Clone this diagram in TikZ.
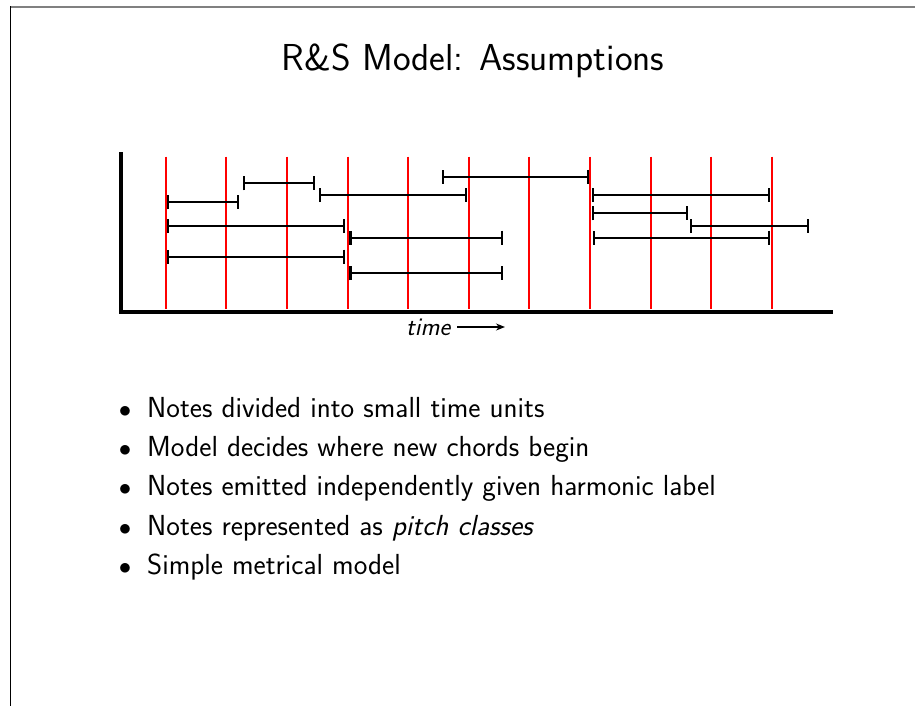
\documentclass[tikz,border=0pt]{standalone}
\usetikzlibrary{arrows.meta}
\begin{document}
\begin{tikzpicture}[x=1pt,y=-1pt,
  frameline/.style={line width=1.5pt},
  gridline/.style={red, line width=2pt},
  notebar/.style={line width=2pt,
    {Bar[width=14pt,line width=2.2pt]}-{Bar[width=14pt,line width=2.2pt]}},
  axisline/.style={line width=4pt, line join=miter},
  itemtext/.style={anchor=base west, inner sep=0pt,
    font=\fontsize{29}{34}\selectfont\sffamily},
  itemdot/.style={anchor=base, inner sep=0pt,
    font=\fontsize{29}{34}\selectfont}]

\useasboundingbox (0,0) rectangle (915,706);

% slide frame edges
\draw[frameline, gray] (10,7) -- (915,7);
\draw[frameline, black] (10.5,6.3) -- (10.5,706);

% title
\node[inner sep=0pt, font=\fontsize{37.5}{44}\selectfont\sffamily] (title)
  at (473,61) {R\&S Model: Assumptions};

% time grid
\foreach \i in {0,...,10}
  \draw[gridline] (165.7+60.63*\i,156.7) -- (165.7+60.63*\i,309.3);

% notes as bars with end ticks: y, start, end
\foreach \y/\a/\b in {176.7/441.7/589.3, 183.3/242.7/315, 195/318.7/467.3,
    202.3/167/239, 226/167/344.7, 237.7/349.3/503.3, 256.7/167/344.7,
    273.3/349.3/503.3, 195/591.7/770.3, 213.3/591.7/688.3,
    226/689.7/809.3, 237.7/592.7/770}
  \draw[notebar] (\a,\y) -- (\b,\y);

% axes
\draw[axisline] (121,152) -- (121,312) -- (833,312);

% time label with arrow
\node[anchor=west, inner sep=0pt, font=\fontsize{25.5}{30}\selectfont\sffamily\itshape]
  (time) at (406,327) {time};
\coordinate (timeend) at (505,327);
\draw[line width=1.4pt, -{Stealth[length=9pt,width=7pt]}]
  ([xshift=7pt]time.east) -- (timeend);

% bullet list
\foreach \yy/\txt [count=\k] in {
    417/{Notes divided into small time units},
    456/{Model decides where new chords begin},
    495/{Notes emitted independently given harmonic label},
    535/{Notes represented as \textit{pitch classes}},
    574/{Simple metrical model}} {
  \node[itemdot] (dot\k) at (125,\yy) {$\bullet$};
  \node[itemtext] (item\k) at (147,\yy) {\txt};
}
\end{tikzpicture}
\end{document}
